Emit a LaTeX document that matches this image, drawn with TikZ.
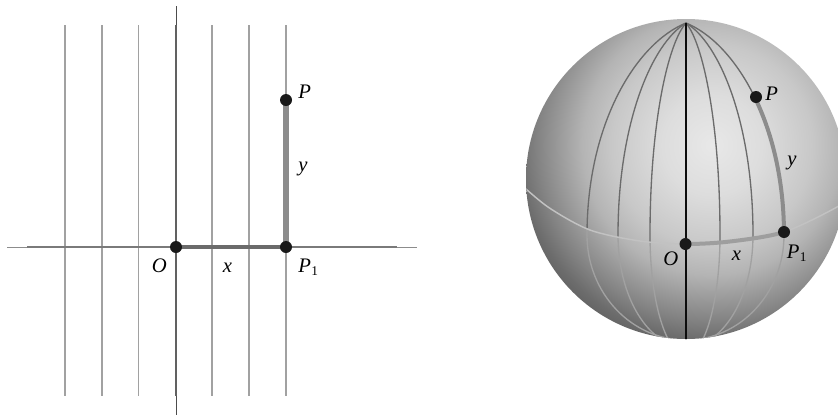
\documentclass[tikz,border=0pt]{standalone}
\usepackage{fontspec}
\setmainfont{Liberation Serif}
\definecolor{s0}{HTML}{E8E8E8}
\definecolor{s1}{HTML}{DDDDDD}
\definecolor{s2}{HTML}{C8C8C8}
\definecolor{s3}{HTML}{B4B4B4}
\definecolor{s4}{HTML}{9E9E9E}
\definecolor{s5}{HTML}{838383}
\definecolor{s6}{HTML}{6C6C6C}
\definecolor{s7}{HTML}{5C5C5C}
\pgfdeclareradialshading{sphshade}{\pgfpoint{0bp}{0bp}}{color(0bp)=(s0); color(5.8bp)=(s1); color(11.65bp)=(s2); color(15.1bp)=(s3); color(17.45bp)=(s4); color(20.35bp)=(s5); color(22.65bp)=(s6); color(25bp)=(s7); color(50bp)=(s7)}
\tikzset{
  gridline/.style={draw=black!37, line width=1.4pt},
  axisthin/.style={draw=black!70, line width=0.7pt},
  axisthick/.style={draw=black!62, line width=1.8pt},
  haxthin/.style={draw=black!45, line width=0.7pt},
  haxthick/.style={draw=black!52, line width=1.5pt},
  segx/.style={draw=black!58, line width=3.6pt},
  segy/.style={draw=black!45, line width=3.8pt},
  dot/.style={circle, fill=black!90, draw=none, inner sep=0pt, minimum size=9pt},
  lab/.style={inner sep=0pt, font=\fontsize{15.5}{18}\selectfont, anchor=base west},
  merup/.style={draw=black!58, line width=1pt},
  merlow/.style={draw=black!37, line width=1pt},
  centmer/.style={draw=black!95, line width=1pt},
  eqline/.style={draw=black!24, line width=1.1pt},
  eqthick/.style={draw=black!38, line width=3pt},
  mthick/.style={draw=black!45, line width=3pt}
}
\newcommand{\subone}{\kern0.3pt\raisebox{-2.2pt}{\fontsize{10}{10}\selectfont 1}}
\begin{document}
\begin{tikzpicture}[x=0.75pt,y=-0.75pt]
\useasboundingbox (0,0) rectangle (838,419);
\clip (0,0) rectangle (838,419);

% ---------- left panel ----------
\foreach \gx in {65,102,138.5,212,249,286}
  \draw[gridline] (\gx,25) -- (\gx,396);
\draw[haxthin] (7,247) -- (417,247);
\draw[haxthick] (27,247) -- (397,247);
\draw[axisthin] (176,6) -- (176,415);
\draw[axisthick] (176,25) -- (176,396);

\coordinate (O) at (176,247);
\coordinate (P1) at (286,247);
\coordinate (P) at (286,100);
\draw[segx] (O) -- (P1);
\draw[segy] (P1) -- (P);
\node[dot] (Odot) at (O) {};
\node[dot] (P1dot) at (P1) {};
\node[dot] (Pdot) at (P) {};

\node[lab] (lP) at (298,98) {\textit{P}};
\node[lab] (ly) at (298,171) {\textit{y}};
\node[lab] (lO) at (151.5,272.5) {\textit{O}};
\node[lab] (lx) at (222.5,272) {\textit{x}};
\node[lab] (lP1) at (298,272.7) {\textit{P}\subone};

% ---------- right panel ----------
\begin{scope}
  \clip (686,179) circle[radius=160];
  \shade[shading=sphshade] (712,145) circle[radius=215];
  % upper meridians
  \begin{scope}
    \clip plot[smooth] coordinates {(516,180) (548,207) (590,230) (640,241) (685.5,244) (730,241.5) (784,232) (837,207) (856,192)} -- (856,0) -- (516,0) -- cycle;
    \foreach \d/\b in {-99/105,-68/112,-36/120,34/120,67/112,98/105}
      \draw[merup] (686,23) .. controls ({686+0.5*\d},43) and ({686+\d},123) .. ({686+\d},235) .. controls ({686+\d},{235+0.552*\b}) and ({686+0.552*\d},{235+\b}) .. (686,{235+\b});
  \end{scope}
  % lower meridians
  \begin{scope}
    \clip plot[smooth] coordinates {(516,180) (548,207) (590,230) (640,241) (685.5,244) (730,241.5) (784,232) (837,207) (856,192)} -- (856,419) -- (516,419) -- cycle;
    \foreach \d/\b in {-99/105,-68/112,-36/120,34/120,67/112,98/105}
      \draw[merlow] (686,23) .. controls ({686+0.5*\d},43) and ({686+\d},123) .. ({686+\d},235) .. controls ({686+\d},{235+0.552*\b}) and ({686+0.552*\d},{235+\b}) .. (686,{235+\b});
  \end{scope}
  % equator
  \draw[eqline] plot[smooth] coordinates {(516,180) (548,207) (590,230) (640,241) (685.5,244) (730,241.5) (784,232) (837,207) (856,192)};
  \coordinate (O2) at (685.5,244);
  \coordinate (P12) at (784,232);
  \coordinate (P2) at (756,97);
  % thick x along equator
  \begin{scope}
    \clip (685.5,210) rectangle (784,262);
    \draw[eqthick] plot[smooth] coordinates {(516,180) (548,207) (590,230) (640,241) (685.5,244) (730,241.5) (784,232) (837,207) (856,192)};
  \end{scope}
  % thick y along meridian
  \begin{scope}
    \clip (700,97) rectangle (850,232);
    \draw[mthick] (686,23) .. controls ({686+0.5*98},43) and ({686+98},123) .. ({686+98},235);
  \end{scope}
  % central meridian
  \draw[centmer] (686,23) -- (686,340);
\end{scope}

\node[dot] (O2dot) at (O2) {};
\node[dot] (P12dot) at (P12) {};
\node[dot] (P2dot) at (P2) {};

\node[lab] (rP) at (765,100.5) {\textit{P}};
\node[lab] (ry) at (787,165) {\textit{y}};
\node[lab] (rO) at (663,265) {\textit{O}};
\node[lab] (rx) at (731.5,260) {\textit{x}};
\node[lab] (rP1) at (786.5,258.3) {\textit{P}\subone};
\end{tikzpicture}
\end{document}
